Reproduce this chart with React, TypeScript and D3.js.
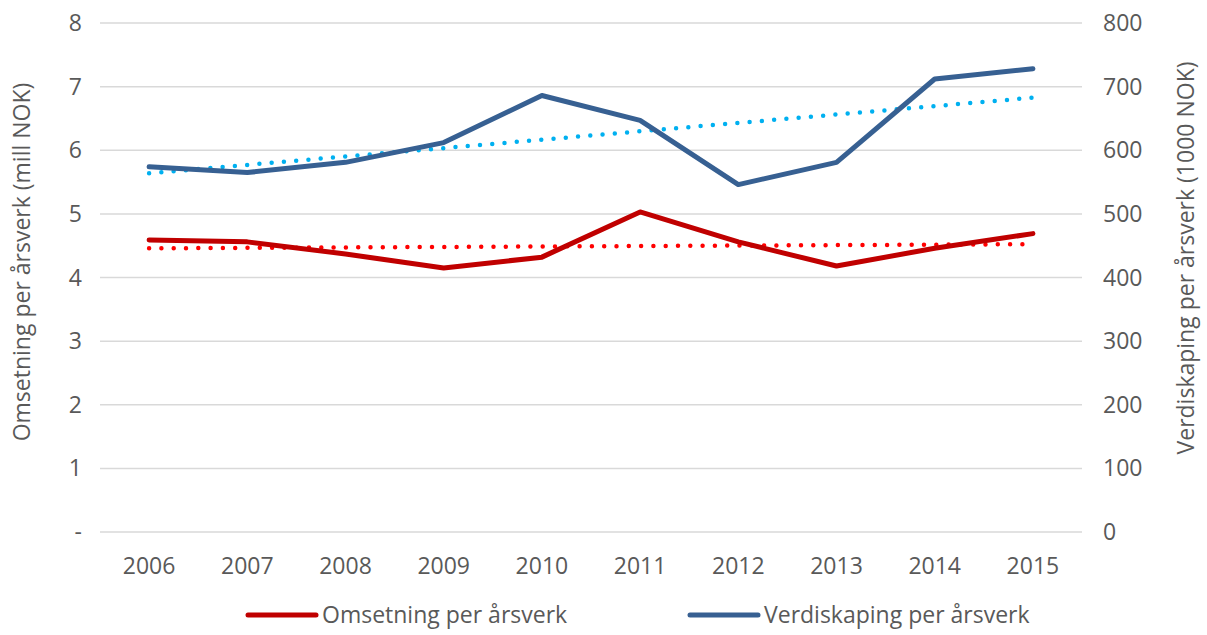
import { useEffect, useRef } from "react";
import * as d3 from "d3";

const years = ["2006", "2007", "2008", "2009", "2010", "2011", "2012", "2013", "2014", "2015"];
const omsetning = [4.59, 4.56, 4.37, 4.15, 4.32, 5.03, 4.56, 4.18, 4.46, 4.69];
const verdiskaping = [574, 565, 581, 612, 686, 647, 546, 581, 712, 728];
const leftTicks = [0, 1, 2, 3, 4, 5, 6, 7, 8];
const rightTicks = [0, 100, 200, 300, 400, 500, 600, 700, 800];

// least squares linear trend, like Excel's trendline
function trend(values: number[]) {
  const n = values.length;
  const mx = (n - 1) / 2;
  const my = d3.mean(values) as number;
  let sxy = 0;
  let sxx = 0;
  values.forEach((v, i) => {
    sxy += (i - mx) * (v - my);
    sxx += (i - mx) * (i - mx);
  });
  const slope = sxy / sxx;
  return values.map((_, i) => my + slope * (i - mx));
}

function App() {
  const chartRef = useRef<HTMLDivElement>(null);

  useEffect(() => {
    const width = 1207;
    const height = 635;
    const margin = { top: 23, right: 125, bottom: 103, left: 100 };
    const font = "'Open Sans', sans-serif";
    const textColor = "#595959";
    const tickSize = 23;
    const labelSize = 23;

    d3.select(chartRef.current).selectAll("*").remove();

    const svg = d3
      .select(chartRef.current)
      .append("svg")
      .attr("width", width)
      .attr("height", height)
      .style("display", "block")
      .style("position", "absolute")
      .style("left", "0px")
      .style("top", "0px")
      .style("background", "#fff");

    const x = d3
      .scaleBand()
      .domain(years)
      .range([margin.left, width - margin.right])
      .padding(0);

    const yLeft = d3.scaleLinear().domain([0, 8]).range([height - margin.bottom, margin.top]);
    const yRight = d3.scaleLinear().domain([0, 800]).range([height - margin.bottom, margin.top]);

    const cx = (d: string) => (x(d) as number) + x.bandwidth() / 2;

    // gridlines
    svg
      .selectAll("line.grid")
      .data(leftTicks)
      .enter()
      .append("line")
      .attr("class", "grid")
      .attr("x1", margin.left)
      .attr("x2", width - margin.right)
      .attr("y1", (d) => yLeft(d))
      .attr("y2", (d) => yLeft(d))
      .attr("stroke", "#d9d9d9")
      .attr("stroke-width", 1.5);

    // left tick labels
    svg
      .selectAll("text.yl")
      .data(leftTicks)
      .enter()
      .append("text")
      .attr("class", "yl")
      .attr("x", 82)
      .attr("y", (d) => yLeft(d))
      .attr("dy", "0.35em")
      .attr("text-anchor", "end")
      .attr("font-family", font)
      .attr("font-size", tickSize)
      .attr("fill", textColor)
      .text((d) => (d === 0 ? "-" : String(d)));

    // right tick labels
    svg
      .selectAll("text.yr")
      .data(rightTicks)
      .enter()
      .append("text")
      .attr("class", "yr")
      .attr("x", 1103)
      .attr("y", (d) => yRight(d))
      .attr("dy", "0.35em")
      .attr("text-anchor", "start")
      .attr("font-family", font)
      .attr("font-size", tickSize)
      .attr("fill", textColor)
      .text((d) => String(d));

    // x labels
    svg
      .selectAll("text.xl")
      .data(years)
      .enter()
      .append("text")
      .attr("class", "xl")
      .attr("x", (d) => cx(d))
      .attr("y", 566)
      .attr("dy", "0.35em")
      .attr("text-anchor", "middle")
      .attr("font-family", font)
      .attr("font-size", tickSize)
      .attr("fill", textColor)
      .text((d) => d);

    // axis titles
    svg
      .append("text")
      .attr("transform", "translate(22,262) rotate(-90)")
      .attr("dy", "0.35em")
      .attr("text-anchor", "middle")
      .attr("font-family", font)
      .attr("font-size", labelSize)
      .attr("fill", textColor)
      .text("Omsetning per årsverk (mill NOK)");

    svg
      .append("text")
      .attr("transform", "translate(1186,258) rotate(-90)")
      .attr("dy", "0.35em")
      .attr("text-anchor", "middle")
      .attr("font-family", font)
      .attr("font-size", labelSize)
      .attr("fill", textColor)
      .text("Verdiskaping per årsverk (1000 NOK)");

    const lineLeft = d3
      .line<number>()
      .x((_, i) => cx(years[i]))
      .y((d) => yLeft(d));

    const lineRight = d3
      .line<number>()
      .x((_, i) => cx(years[i]))
      .y((d) => yRight(d));

    // trendlines (dotted)
    svg
      .append("path")
      .datum(trend(omsetning))
      .attr("fill", "none")
      .attr("stroke", "#ff0000")
      .attr("stroke-width", 4.5)
      .attr("stroke-linecap", "round")
      .attr("stroke-dasharray", "0,12.3")
      .attr("d", lineLeft);

    svg
      .append("path")
      .datum(trend(verdiskaping))
      .attr("fill", "none")
      .attr("stroke", "#00b0f0")
      .attr("stroke-width", 4.5)
      .attr("stroke-linecap", "round")
      .attr("stroke-dasharray", "0,12.3")
      .attr("d", lineRight);

    // main lines
    svg
      .append("path")
      .datum(omsetning)
      .attr("fill", "none")
      .attr("stroke", "#c00000")
      .attr("stroke-width", 5)
      .attr("stroke-linejoin", "round")
      .attr("stroke-linecap", "round")
      .attr("d", lineLeft);

    svg
      .append("path")
      .datum(verdiskaping)
      .attr("fill", "none")
      .attr("stroke", "#376092")
      .attr("stroke-width", 5)
      .attr("stroke-linejoin", "round")
      .attr("stroke-linecap", "round")
      .attr("d", lineRight);

    // legend
    const legend = [
      { label: "Omsetning per årsverk", color: "#c00000", x: 248 },
      { label: "Verdiskaping per årsverk", color: "#376092", x: 690 },
    ];
    const lg = svg
      .selectAll("g.legend")
      .data(legend)
      .enter()
      .append("g")
      .attr("class", "legend")
      .attr("transform", (d) => `translate(${d.x},615)`);
    lg.append("line")
      .attr("x1", 0)
      .attr("x2", 68)
      .attr("stroke", (d) => d.color)
      .attr("stroke-width", 5)
      .attr("stroke-linecap", "round");
    lg.append("text")
      .attr("x", 74)
      .attr("dy", "0.35em")
      .attr("font-family", font)
      .attr("font-size", labelSize)
      .attr("fill", textColor)
      .text((d) => d.label);
  }, []);

  return <div ref={chartRef}></div>;
}

export default App;
